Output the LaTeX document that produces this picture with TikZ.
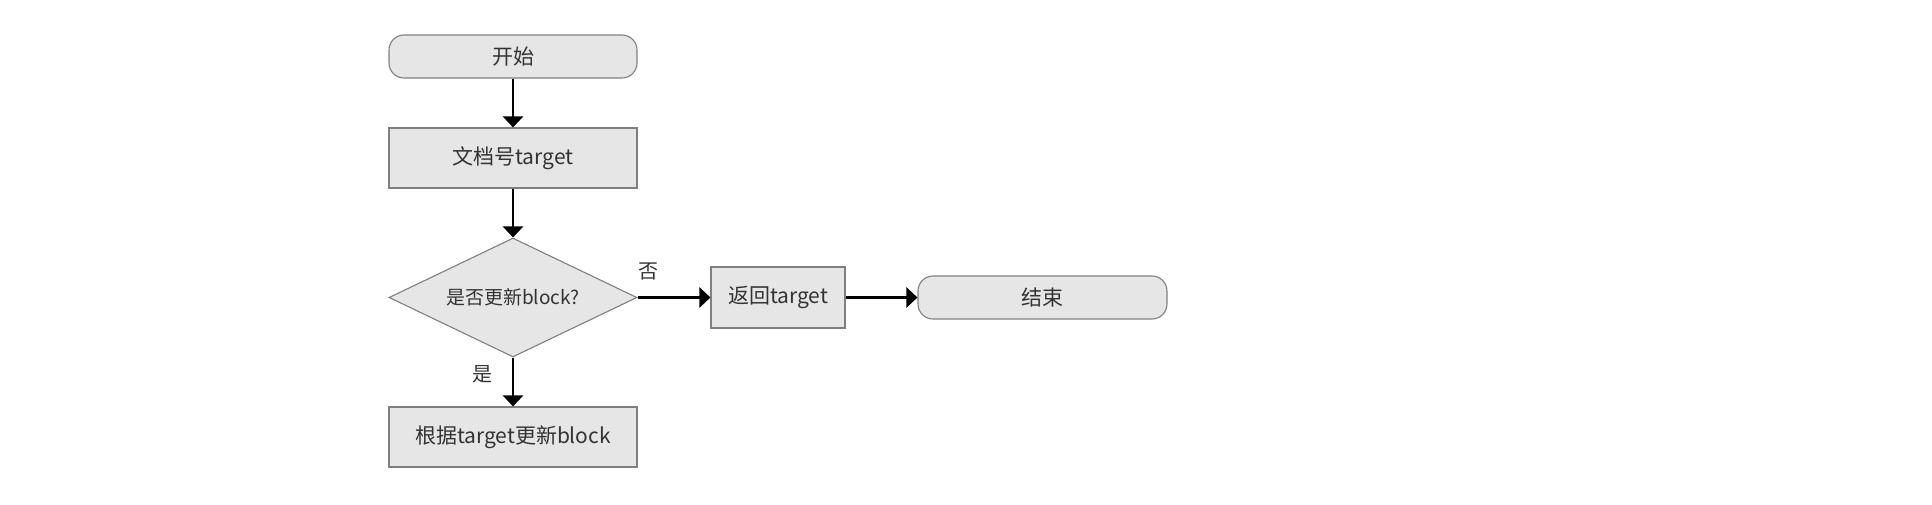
\documentclass[tikz,border=0pt]{standalone}
\usepackage{fontspec}
\setmainfont{Noto Sans CJK SC}
\usetikzlibrary{shapes.geometric,arrows.meta}
\definecolor{boxfill}{HTML}{E6E6E6}
\definecolor{boxline}{HTML}{7F7F7F}
\definecolor{txt}{HTML}{333333}
\tikzset{
  base/.style={draw=boxline, fill=boxfill, line width=1.1pt, inner sep=0pt, text=txt, font=\fontsize{21}{24}\selectfont},
  terminal/.style={base, rectangle, rounded corners=15pt, minimum width=248pt, minimum height=43pt},
  procbox/.style={base, rectangle, minimum width=248pt, minimum height=60pt},
  decision/.style={base, diamond, aspect=2.08, minimum width=248pt, minimum height=119pt, font=\fontsize{19}{22}\selectfont},
  flow/.style={line width=2.6pt, -{Triangle[width=20pt,length=11pt]}},
  lbl/.style={text=txt, font=\fontsize{20}{23}\selectfont, inner sep=0pt}
}
\begin{document}
\begin{tikzpicture}[x=1pt,y=-1pt]
\useasboundingbox (0,0) rectangle (1932,504);
\node[terminal] (start) at (513,56.5) {开始};
\node[procbox] (doc) at (513,158) {文档号target};
\node[decision] (dec) at (513,297.5) {是否更新block?};
\node[procbox, minimum width=134pt, minimum height=61pt] (ret) at (778,297.5) {返回target};
\node[terminal, minimum width=249pt] (end) at (1042.5,297.5) {结束};
\node[procbox] (upd) at (513,437) {根据target更新block};
\node[lbl] (no) at (648,271) {否};
\node[lbl] (yes) at (482,374) {是};
\draw[flow] (start) -- (doc);
\draw[flow] (doc) -- (dec);
\draw[flow] (dec) -- (upd);
\draw[flow] (dec.east) -- (ret.west);
\draw[flow] (ret.east) -- (end.west);
\end{tikzpicture}
\end{document}
